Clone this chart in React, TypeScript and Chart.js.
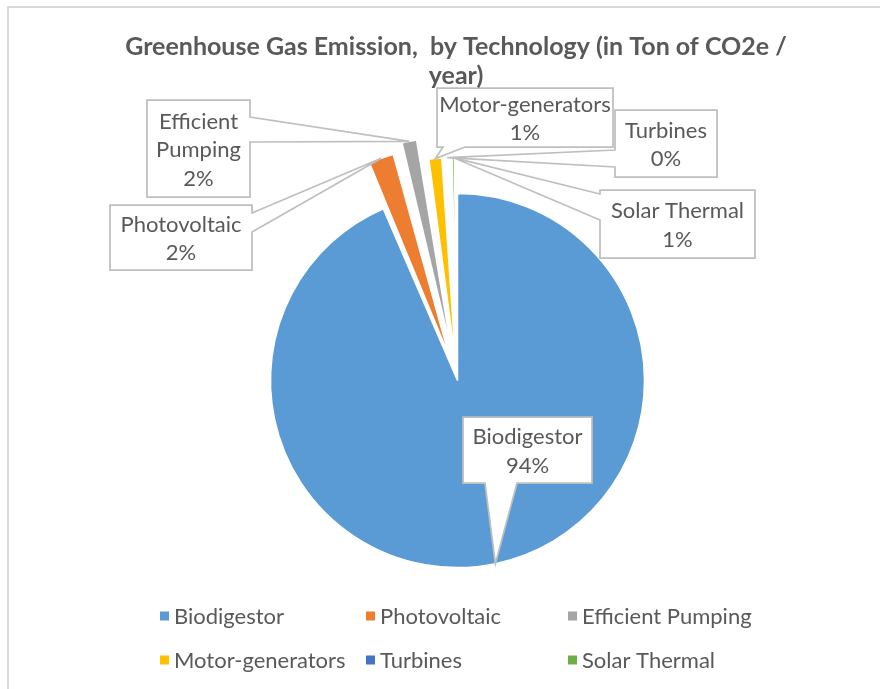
import { useEffect, useRef } from "react";
import { Chart, registerables } from "chart.js";

Chart.register(...registerables);

// ---- data ----
const categories = [
  "Biodigestor",
  "Photovoltaic",
  "Efficient Pumping",
  "Motor-generators",
  "Turbines",
  "Solar Thermal",
];
// tons of CO2e per year
const emissions = [9150, 240, 170, 140, 25, 60];
const sliceColors = ["#5B9BD5", "#ED7D31", "#A5A5A5", "#FFC000", "#4472C4", "#70AD47"];
// how far each slice is pulled out of the pie, in pixels
const explodePx = [0, 48, 57, 36, 36, 36];

const titleLines = ["Greenhouse Gas Emission,  by Technology (in Ton of CO2e /", "year)"];

// ---- styling / layout ----
const FONT = "Lato, 'Open Sans', sans-serif";
const TEXT_COLOR = "#595959";
const CALLOUT_BORDER = "#BFBFBF";
const LABEL_SIZE = 22;
const LABEL_LINE = 28.5;

type Callout = {
  x: number;
  y: number;
  w: number;
  h: number;
  side: "left" | "right" | "bottom";
  from: number;
  to: number;
};

// data-label boxes, one per category (same order)
const calloutBoxes: Callout[] = [
  { x: 463, y: 417, w: 129, h: 66, side: "bottom", from: 485, to: 517 },
  { x: 110, y: 205, w: 142, h: 65, side: "right", from: 213, to: 232 },
  { x: 147, y: 100, w: 103, h: 97, side: "right", from: 117, to: 142 },
  { x: 437, y: 88, w: 176, h: 59, side: "bottom", from: 443, to: 465 },
  { x: 615, y: 110, w: 102, h: 67, side: "left", from: 150, to: 167 },
  { x: 600, y: 190, w: 155, h: 68, side: "left", from: 194, to: 220 },
];

const legendCols = [160, 366, 568];
const legendRows = [616, 660];

const total = emissions.reduce((a, b) => a + b, 0);
const pctText = (v: number) => `${Math.round((v / total) * 100)}%`;

// Chart.js moves an arc by offset/4 * (2 - sin(circumference)); invert that
const offsetOption = (i: number) => {
  const circ = (emissions[i] / total) * Math.PI * 2;
  return (explodePx[i] * 4) / (2 - Math.sin(Math.min(Math.PI, circ)));
};

function wrapWords(ctx: CanvasRenderingContext2D, text: string, maxW: number): string[] {
  const words = text.split(" ");
  const lines: string[] = [];
  let cur = "";
  for (const w of words) {
    const test = cur ? cur + " " + w : w;
    if (cur && ctx.measureText(test).width > maxW) {
      lines.push(cur);
      cur = w;
    } else {
      cur = test;
    }
  }
  if (cur) lines.push(cur);
  return lines;
}

function calloutPath(ctx: CanvasRenderingContext2D, b: Callout, ax: number, ay: number) {
  const r = b.x + b.w;
  const btm = b.y + b.h;
  ctx.beginPath();
  ctx.moveTo(b.x, b.y);
  ctx.lineTo(r, b.y);
  if (b.side === "right") {
    ctx.lineTo(r, b.from);
    ctx.lineTo(ax, ay);
    ctx.lineTo(r, b.to);
  }
  ctx.lineTo(r, btm);
  if (b.side === "bottom") {
    ctx.lineTo(b.to, btm);
    ctx.lineTo(ax, ay);
    ctx.lineTo(b.from, btm);
  }
  ctx.lineTo(b.x, btm);
  if (b.side === "left") {
    ctx.lineTo(b.x, b.to);
    ctx.lineTo(ax, ay);
    ctx.lineTo(b.x, b.from);
  }
  ctx.closePath();
}

const decorations = {
  id: "excelDecorations",
  afterDatasetsDraw(chart: any) {
    const ctx: CanvasRenderingContext2D = chart.ctx;
    const meta = chart.getDatasetMeta(0);
    ctx.save();

    // callout anchors: outer edge of each (pulled-out) slice at its middle angle
    const anchors = meta.data.map((el: any, i: number) => {
      const p = el.getProps(["x", "y", "startAngle", "endAngle", "outerRadius"], true);
      const mid = (p.startAngle + p.endAngle) / 2;
      const d = p.outerRadius + explodePx[i];
      return [p.x + Math.cos(mid) * d, p.y + Math.sin(mid) * d];
    });

    calloutBoxes.forEach((b, i) => {
      calloutPath(ctx, b, anchors[i][0], anchors[i][1]);
      ctx.fillStyle = "#ffffff";
      ctx.fill();
    });
    ctx.strokeStyle = CALLOUT_BORDER;
    ctx.lineWidth = 1.75;
    ctx.lineJoin = "miter";
    calloutBoxes.forEach((b, i) => {
      calloutPath(ctx, b, anchors[i][0], anchors[i][1]);
      ctx.stroke();
    });

    ctx.font = `${LABEL_SIZE}px ${FONT}`;
    ctx.fillStyle = TEXT_COLOR;
    ctx.textAlign = "center";
    ctx.textBaseline = "alphabetic";
    calloutBoxes.forEach((b, i) => {
      const lines = [...wrapWords(ctx, categories[i], b.w - 12), pctText(emissions[i])];
      const cx = b.x + b.w / 2;
      const midBase = b.y + b.h / 2 + 8.5;
      const first = midBase - ((lines.length - 1) * LABEL_LINE) / 2;
      lines.forEach((t, k) => ctx.fillText(t, cx, first + k * LABEL_LINE));
    });

    ctx.restore();
  },
  afterDraw(chart: any) {
    const ctx: CanvasRenderingContext2D = chart.ctx;
    ctx.save();

    // outer frame
    ctx.strokeStyle = "#D9D9D9";
    ctx.lineWidth = 2;
    ctx.beginPath();
    ctx.moveTo(8, 689);
    ctx.lineTo(8, 7);
    ctx.lineTo(880, 7);
    ctx.stroke();

    // title
    ctx.fillStyle = TEXT_COLOR;
    ctx.textAlign = "center";
    ctx.textBaseline = "alphabetic";
    ctx.font = `bold 25px ${FONT}`;
    titleLines.forEach((t, k) => ctx.fillText(t, 456, 55 + k * 29));

    // legend
    ctx.font = `${LABEL_SIZE}px ${FONT}`;
    ctx.textAlign = "left";
    categories.forEach((name, i) => {
      const col = i % 3;
      const row = Math.floor(i / 3);
      const x = legendCols[col];
      const y = legendRows[row];
      ctx.fillStyle = sliceColors[i];
      ctx.fillRect(x, y - 4.5, 9, 9);
      ctx.fillStyle = TEXT_COLOR;
      ctx.fillText(name, x + 14, y + 8);
    });

    ctx.restore();
  },
};

export default function App() {
  const canvasRef = useRef<HTMLCanvasElement | null>(null);

  useEffect(() => {
    if (!canvasRef.current) return;
    const chart = new Chart(canvasRef.current, {
      type: "pie",
      data: {
        labels: categories,
        datasets: [
          {
            data: emissions,
            backgroundColor: sliceColors,
            borderColor: "#ffffff",
            borderWidth: 1.5,
            offset: emissions.map((_, i) => offsetOption(i)),
          },
        ],
      },
      options: {
        animation: false,
        responsive: false,
        events: [],
        radius: 187,
        layout: { padding: { left: 135, right: 100, top: 172, bottom: 100 } },
        plugins: {
          legend: { display: false },
          title: { display: false },
          tooltip: { enabled: false },
        },
      } as any,
      plugins: [decorations],
    });
    return () => chart.destroy();
  }, []);

  return (
    <div style={{ position: "fixed", left: 0, top: 0, width: 880, height: 689, background: "#fff" }}>
      <canvas ref={canvasRef} width={880} height={689} style={{ width: 880, height: 689, display: "block" }} />
    </div>
  );
}
